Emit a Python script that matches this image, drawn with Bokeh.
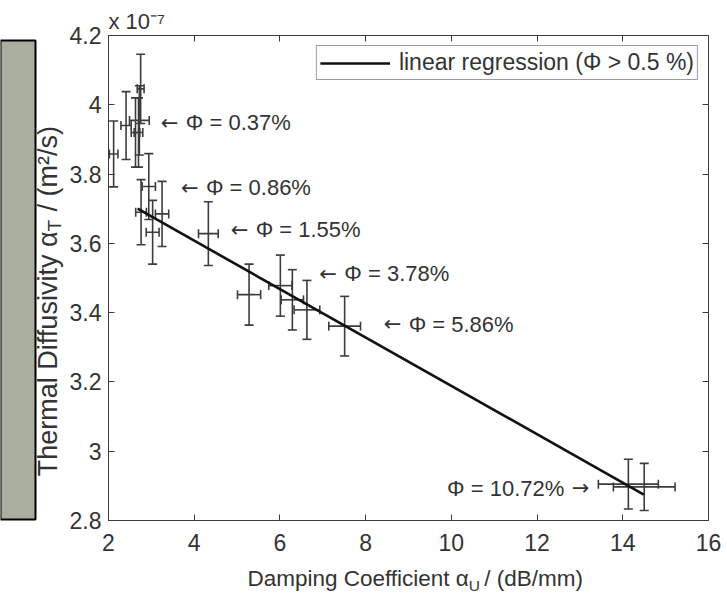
import math
from bokeh.plotting import figure
from bokeh.layouts import row, column
from bokeh.models import (ColumnDataSource, Whisker, TeeHead, FixedTicker,
                          NumeralTickFormatter, LinearAxis, Label, Legend, LegendItem,
                          CustomJSTickFormatter)
from bokeh.core.properties import value
from bokeh.embed import file_html
from bokeh.resources import INLINE

# ---------------- data (diffusivity in units of 1e-7 m^2/s) ----------------
damping = [2.12, 2.41, 2.63, 2.75, 2.72, 2.70, 2.94, 2.76, 3.03, 3.25,
           4.33, 5.28, 6.01, 6.29, 6.63, 7.51, 14.13, 14.50]
damping_err = [0.10, 0.12, 0.10, 0.08, 0.23, 0.10, 0.155, 0.125, 0.15, 0.155,
               0.23, 0.27, 0.27, 0.26, 0.30, 0.37, 0.70, 0.72]
diffusivity = [3.858, 3.940, 3.920, 4.046, 3.955, 3.920, 3.764, 3.690, 3.632, 3.685,
               3.628, 3.452, 3.478, 3.437, 3.408, 3.361, 2.905, 2.897]
diffusivity_err = [0.095, 0.098, 0.100, 0.100, 0.100, 0.100, 0.095, 0.094, 0.092, 0.094,
                   0.092, 0.088, 0.088, 0.087, 0.085, 0.086, 0.072, 0.068]

reg_x = [2.68, 14.49]
reg_y = [3.700, 2.875]

ann_x = [3.22, 3.69, 4.85, 6.92, 8.42, 13.22]
ann_y = [3.940, 3.752, 3.630, 3.504, 3.358, 2.884]
ann_label = ["\u03a6 = 0.37%", "\u03a6 = 0.86%", "\u03a6 = 1.55%",
             "\u03a6 = 3.78%", "\u03a6 = 5.86%", "\u03a6 = 10.72%"]
ann_arrow = ["\u2190", "\u2190", "\u2190", "\u2190", "\u2190", "\u2192"]
ann_align = ["left", "left", "left", "left", "left", "right"]

x_ticks = [2, 4, 6, 8, 10, 12, 14, 16]
y_ticks = [2.8, 3.0, 3.2, 3.4, 3.6, 3.8, 4.0, 4.2]

FONT = "Liberation Sans"
TXT = "#333333"
BAR = "#3c3c3c"

src = ColumnDataSource(dict(
    x=damping, y=diffusivity,
    x_lo=[a - b for a, b in zip(damping, damping_err)],
    x_hi=[a + b for a, b in zip(damping, damping_err)],
    y_lo=[a - b for a, b in zip(diffusivity, diffusivity_err)],
    y_hi=[a + b for a, b in zip(diffusivity, diffusivity_err)],
))

def strip(w, h, xr, yr):
    f = figure(width=w, height=h, x_range=xr, y_range=yr, min_border=0,
               x_axis_location=None, y_axis_location=None, output_backend="svg",
               toolbar_location=None, outline_line_color=None)
    f.grid.visible = False
    return f

# ---------------- main plot ----------------
p = figure(width=661, height=565, x_range=(2, 16), y_range=(2.8, 4.2),
           min_border_left=40, min_border_right=19, min_border_top=35,
           min_border_bottom=45, output_backend="svg", toolbar_location=None)
p.grid.visible = False
p.outline_line_color = BAR
p.outline_line_width = 1

for ax in (p.xaxis[0], p.yaxis[0]):
    ax.major_tick_in = 6
    ax.major_tick_out = 0
    ax.minor_tick_line_color = None
    ax.axis_line_color = BAR
    ax.major_tick_line_color = BAR
    ax.major_label_text_font = FONT
    ax.major_label_text_font_size = "23px"
    ax.major_label_text_color = TXT
p.xaxis.ticker = FixedTicker(ticks=x_ticks)
p.yaxis.ticker = FixedTicker(ticks=y_ticks)
p.yaxis.formatter = NumeralTickFormatter(format="0.[0]")
p.xaxis.major_label_standoff = 13
p.yaxis.major_label_standoff = 7

blank = CustomJSTickFormatter(code="return ''")
top_ax = LinearAxis(ticker=FixedTicker(ticks=x_ticks), formatter=blank,
                    major_label_text_color=None, major_label_standoff=0,
                    major_tick_in=6, major_tick_out=0, minor_tick_line_color=None,
                    axis_line_color=BAR, major_tick_line_color=BAR)
right_ax = LinearAxis(ticker=FixedTicker(ticks=y_ticks), formatter=blank,
                      major_label_text_color=None, major_label_standoff=0,
                      major_tick_in=6, major_tick_out=0, minor_tick_line_color=None,
                      axis_line_color=BAR, major_tick_line_color=BAR)
p.add_layout(top_ax, "above")
p.add_layout(right_ax, "right")

# axis exponent shown as the plot title
p.title.text = "x 10\u207b\u2077"
p.title.align = "left"
p.title.text_font = FONT
p.title.text_font_size = "22px"
p.title.text_font_style = "normal"
p.title.text_color = TXT
p.title.standoff = 4

# error bars
def head():
    return TeeHead(size=9, line_color=BAR, line_width=1.6)

p.add_layout(Whisker(source=src, base="x", upper="y_hi", lower="y_lo", dimension="height",
                     line_color=BAR, line_width=1.6, upper_head=head(), lower_head=head()))
p.add_layout(Whisker(source=src, base="y", upper="x_hi", lower="x_lo", dimension="width",
                     line_color=BAR, line_width=1.6, upper_head=head(), lower_head=head()))

reg = p.line(reg_x, reg_y, line_color="#111111", line_width=2.6)

# annotations (arrow drawn separately so it gets a full-size arrow glyph)
for al, off in (("left", 25), ("right", -25)):
    idx = [i for i, a in enumerate(ann_align) if a == al]
    s = ColumnDataSource(dict(x=[ann_x[i] for i in idx], y=[ann_y[i] for i in idx],
                              t=[ann_label[i] for i in idx], a=[ann_arrow[i] for i in idx]))
    p.text(x="x", y="y", text="a", source=s, text_align=al, text_baseline="middle",
           y_offset=-3, text_font=value("DejaVu Sans"), text_font_size=value("21px"),
           text_color=TXT)
    p.text(x="x", y="y", text="t", source=s, text_align=al, text_baseline="middle",
           x_offset=off, y_offset=-3, text_font=value(FONT), text_font_size=value("22px"),
           text_color=TXT)

legend = Legend(items=[LegendItem(label="linear regression (\u03a6 > 0.5 %)", renderers=[reg])],
                location="top_right", margin=10, padding=3, glyph_width=70,
                glyph_height=20, label_height=20, label_standoff=9,
                label_text_font=FONT, label_text_font_size="23px", label_text_color=TXT,
                border_line_color=BAR, border_line_width=1)
p.add_layout(legend)

# ---------------- bottom strip: x axis title (coords = page pixels) ----------------
bstrip = strip(661, 38, (66, 727), (603, 565))
xa = 463
bstrip.add_layout(Label(x=xa, y=578, text="Damping Coefficient \u03b1", text_align="right",
                        text_baseline="middle", text_font=FONT, text_font_size="22.5px",
                        text_color=TXT))
bstrip.add_layout(Label(x=xa, y=585, text="U", text_align="left", text_baseline="middle",
                        text_font=FONT, text_font_size="15.5px", text_color=TXT))
bstrip.add_layout(Label(x=xa + 17, y=578, text="/ (dB/mm)", text_align="left",
                        text_baseline="middle", text_font=FONT, text_font_size="22.5px",
                        text_color=TXT))
bstrip.scatter([100], [580], alpha=0)

# ---------------- left strip: cropped neighbour panel + y axis title ----------------
lstrip = strip(66, 603, (0, 66), (603, 0))
lstrip.quad(left=[0], right=[35], top=[40], bottom=[519], fill_color="#a9ae9f",
            line_color="black", line_width=2)
ya = 231
ang = math.pi / 2
lstrip.add_layout(Label(x=47, y=ya, angle=ang, text="Thermal Diffusivity \u03b1",
                        text_align="right", text_baseline="middle", text_font=FONT,
                        text_font_size="27px", text_color=TXT))
lstrip.add_layout(Label(x=54, y=ya, angle=ang, text="T", text_align="left",
                        text_baseline="middle", text_font=FONT, text_font_size="19px",
                        text_color=TXT))
lstrip.add_layout(Label(x=47, y=ya - 20, angle=ang, text="/ (m\u00b2/s)", text_align="left",
                        text_baseline="middle", text_font=FONT, text_font_size="27px",
                        text_color=TXT))

layout = row(lstrip, column(p, bstrip))
open("out.html", "w").write(file_html(layout, INLINE))
